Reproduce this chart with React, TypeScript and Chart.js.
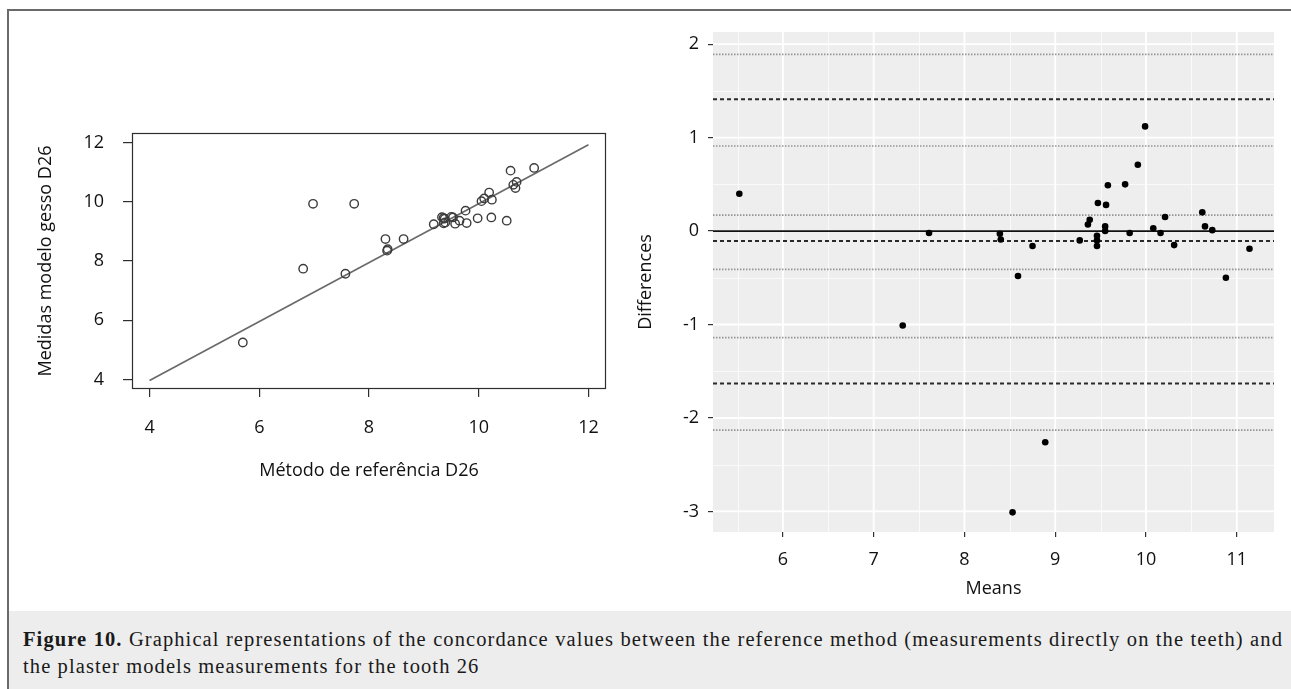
import React, { useEffect, useRef } from "react";
import { Chart, registerables } from "chart.js";

Chart.register(...registerables);

// ---------- Left panel: scatter (reference method vs plaster model) ----------
const refMethod = [
  5.70, 7.57, 8.33, 8.34, 8.30, 8.63, 9.18, 9.36, 9.39, 9.38, 9.36, 9.33, 9.57, 9.53, 9.50,
  9.65, 9.78, 9.98, 9.76, 10.23, 10.51, 10.05, 10.10, 10.24, 10.19, 10.67, 10.63, 10.69,
  10.58, 11.01, 6.80, 6.98, 7.73,
];
const plasterModel = [
  5.25, 7.57, 8.35, 8.40, 8.74, 8.74, 9.24, 9.27, 9.30, 9.43, 9.45, 9.48, 9.26, 9.47, 9.49,
  9.36, 9.28, 9.44, 9.70, 9.47, 9.36, 10.02, 10.11, 10.07, 10.31, 10.46, 10.57, 10.67,
  11.05, 11.14, 7.74, 9.93, 9.93,
];
const fitLineX = [4, 12];
const fitLineY = [3.97, 11.92];
const leftTicks = [4, 6, 8, 10, 12];
const leftRange = [3.68, 12.32];

// ---------- Right panel: Bland-Altman ----------
const means = [
  5.52, 7.61, 8.39, 8.40, 8.59, 8.75, 9.27, 9.36, 9.38, 9.46, 9.46, 9.46, 9.47, 9.55, 9.55,
  9.56, 9.58, 9.77, 9.82, 9.91, 9.99, 10.08, 10.16, 10.21, 10.31, 10.62, 10.65, 10.73,
  10.88, 11.14, 7.32, 8.53, 8.89,
];
const differences = [
  0.40, -0.02, -0.03, -0.09, -0.48, -0.16, -0.10, 0.07, 0.12, -0.05, -0.10, -0.16, 0.30,
  0.05, 0.00, 0.28, 0.49, 0.50, -0.02, 0.71, 1.12, 0.03, -0.02, 0.15, -0.15, 0.20, 0.05,
  0.01, -0.50, -0.19, -1.01, -3.01, -2.26,
];
const zeroLine = 0;
const meanBias = -0.107;
const limitsOfAgreement = [1.41, -1.63];
const confidenceBounds = [1.89, 0.91, 0.17, -0.41, -1.14, -2.13];
const meansTicks = [6, 7, 8, 9, 10, 11];
const diffTicks = [-3, -2, -1, 0, 1, 2];
const meansRange = [5.23, 11.41];
const diffRange = [-3.22, 2.13];

const SANS = "'Open Sans', 'Noto Sans', sans-serif";

const boxPlugin = {
  id: "rBox",
  afterDatasetsDraw(chart: any) {
    const { ctx, chartArea } = chart;
    const { left, top, right, bottom } = chartArea;
    ctx.save();
    ctx.strokeStyle = "#2e2e2e";
    ctx.lineWidth = 1.2;
    ctx.strokeRect(left + 0.5, top + 0.5, right - left - 1, bottom - top - 1);
    ctx.restore();
  },
};

const ggPanelPlugin = {
  id: "ggPanel",
  beforeDatasetsDraw(chart: any) {
    const { ctx, chartArea, scales } = chart;
    const { left, top, right, bottom } = chartArea;
    ctx.save();
    ctx.fillStyle = "#EEEEEE";
    ctx.fillRect(left, top, right - left, bottom - top);
    ctx.strokeStyle = "#FAFAFA";
    ctx.lineWidth = 0.9;
    const xs = scales.x;
    const ys = scales.y;
    for (let i = 0; i < meansTicks.length; i++) {
      const v = meansTicks[i] - 0.5;
      if (v > xs.min && v < xs.max) {
        const px = Math.round(xs.getPixelForValue(v)) + 0.5;
        ctx.beginPath();
        ctx.moveTo(px, top);
        ctx.lineTo(px, bottom);
        ctx.stroke();
      }
    }
    for (let i = 0; i < diffTicks.length; i++) {
      const v = diffTicks[i] + 0.5;
      if (v > ys.min && v < ys.max) {
        const py = Math.round(ys.getPixelForValue(v)) + 0.5;
        ctx.beginPath();
        ctx.moveTo(left, py);
        ctx.lineTo(right, py);
        ctx.stroke();
      }
    }
    ctx.strokeStyle = "#FFFFFF";
    ctx.lineWidth = 1.8;
    meansTicks.forEach((v) => {
      const px = xs.getPixelForValue(v);
      ctx.beginPath();
      ctx.moveTo(px, top);
      ctx.lineTo(px, bottom);
      ctx.stroke();
    });
    diffTicks.forEach((v) => {
      const py = ys.getPixelForValue(v);
      ctx.beginPath();
      ctx.moveTo(left, py);
      ctx.lineTo(right, py);
      ctx.stroke();
    });
    ctx.restore();
  },
};

function hLine(value: number, color: string, width: number, dash: number[]) {
  return {
    data: meansRange.map((x) => ({ x, y: value })),
    showLine: true,
    borderColor: color,
    borderWidth: width,
    borderDash: dash,
    pointRadius: 0,
    pointHoverRadius: 0,
    fill: false,
  };
}

function LeftChart() {
  const ref = useRef<HTMLCanvasElement | null>(null);
  useEffect(() => {
    if (!ref.current) return;
    const chart = new Chart(ref.current, {
      type: "scatter",
      data: {
        datasets: [
          {
            data: refMethod.map((x, i) => ({ x, y: plasterModel[i] })),
            pointStyle: "circle",
            pointRadius: 4.2,
            pointHoverRadius: 4.2,
            borderColor: "#3c3c3c",
            borderWidth: 1.4,
            backgroundColor: "rgba(0,0,0,0)",
          } as any,
          {
            data: fitLineX.map((x, i) => ({ x, y: fitLineY[i] })),
            showLine: true,
            borderColor: "#6a6a6a",
            borderWidth: 1.7,
            pointRadius: 0,
            pointHoverRadius: 0,
          } as any,
        ],
      },
      options: {
        responsive: false,
        animation: false,
        devicePixelRatio: 1,
        events: [],
        layout: { padding: { left: 0, top: 133, right: 34, bottom: 129 } },
        plugins: { legend: { display: false }, tooltip: { enabled: false } },
        scales: {
          x: {
            type: "linear",
            min: leftRange[0],
            max: leftRange[1],
            afterBuildTicks: (s: any) => {
              s.ticks = leftTicks.map((v) => ({ value: v }));
            },
            afterFit: (s: any) => {
              s.height = 93;
            },
            grid: { drawOnChartArea: false, drawTicks: true, tickLength: 8, color: "#2e2e2e", lineWidth: 1.2 },
            border: { display: false },
            ticks: {
              padding: 20,
              color: "#111",
              font: { family: SANS, size: 18 },
              maxRotation: 0,
              autoSkip: false,
              callback: (v: any) => String(v),
            },
            title: {
              display: true,
              text: "Método de referência D26",
              color: "#111",
              font: { family: SANS, size: 18 },
              padding: 0,
            },
          },
          y: {
            type: "linear",
            min: leftRange[0],
            max: leftRange[1],
            afterBuildTicks: (s: any) => {
              s.ticks = leftTicks.map((v) => ({ value: v }));
            },
            afterFit: (s: any) => {
              s.width = 132;
            },
            grid: { drawOnChartArea: false, drawTicks: true, tickLength: 9, color: "#2e2e2e", lineWidth: 1.2 },
            border: { display: false },
            ticks: {
              padding: 19,
              color: "#111",
              font: { family: SANS, size: 18 },
              autoSkip: false,
              callback: (v: any) => String(v),
            },
            title: {
              display: true,
              text: "Medidas modelo gesso D26",
              color: "#111",
              font: { family: SANS, size: 18 },
              padding: { top: 35, bottom: 0 },
            },
          },
        },
      },
      plugins: [boxPlugin],
    } as any);
    return () => chart.destroy();
  }, []);
  return (
    <canvas
      ref={ref}
      width={640}
      height={611}
      style={{ position: "absolute", left: 0, top: 0, width: 640, height: 611 }}
    />
  );
}

function RightChart() {
  const ref = useRef<HTMLCanvasElement | null>(null);
  useEffect(() => {
    if (!ref.current) return;
    const datasets: any[] = [
      {
        data: means.map((x, i) => ({ x, y: differences[i] })),
        pointStyle: "circle",
        pointRadius: 3.3,
        pointHoverRadius: 3.3,
        backgroundColor: "#000",
        borderColor: "#000",
        borderWidth: 0,
      },
      hLine(zeroLine, "#111", 1.8, []),
      hLine(meanBias, "#2a2a2a", 2, [4, 3]),
      ...limitsOfAgreement.map((v) => hLine(v, "#2a2a2a", 2, [4, 3])),
      ...confidenceBounds.map((v) => hLine(v, "#959595", 1.7, [1.5, 1.5])),
    ];
    const chart = new Chart(ref.current, {
      type: "scatter",
      data: { datasets },
      options: {
        responsive: false,
        animation: false,
        devicePixelRatio: 1,
        events: [],
        layout: { padding: { left: 0, top: 32, right: 17, bottom: 11 } },
        plugins: { legend: { display: false }, tooltip: { enabled: false } },
        scales: {
          x: {
            type: "linear",
            min: meansRange[0],
            max: meansRange[1],
            afterBuildTicks: (s: any) => {
              s.ticks = meansTicks.map((v) => ({ value: v }));
            },
            afterFit: (s: any) => {
              s.height = 68;
            },
            grid: { drawOnChartArea: false, drawTicks: true, tickLength: 5, color: "#333", lineWidth: 1.2 },
            border: { display: false },
            ticks: {
              padding: 12,
              color: "#111",
              font: { family: SANS, size: 18 },
              maxRotation: 0,
              autoSkip: false,
              callback: (v: any) => String(v),
            },
            title: {
              display: true,
              text: "Means",
              color: "#111",
              font: { family: SANS, size: 18 },
              padding: 0,
            },
          },
          y: {
            type: "linear",
            min: diffRange[0],
            max: diffRange[1],
            afterBuildTicks: (s: any) => {
              s.ticks = diffTicks.map((v) => ({ value: v }));
            },
            afterFit: (s: any) => {
              s.width = 83;
            },
            grid: { drawOnChartArea: false, drawTicks: true, tickLength: 5, color: "#333", lineWidth: 1.2 },
            border: { display: false },
            ticks: {
              padding: 9,
              color: "#111",
              font: { family: SANS, size: 18 },
              autoSkip: false,
              callback: (v: any) => String(v),
            },
            title: {
              display: true,
              text: "Differences",
              color: "#111",
              font: { family: SANS, size: 18 },
              padding: { top: 5, bottom: 0 },
            },
          },
        },
      },
      plugins: [ggPanelPlugin],
    } as any);
    return () => chart.destroy();
  }, []);
  return (
    <canvas
      ref={ref}
      width={661}
      height={611}
      style={{ position: "absolute", left: 630, top: 0, width: 661, height: 611 }}
    />
  );
}

export default function App() {
  const serif = "'Liberation Serif', 'DejaVu Serif', serif";
  return (
    <div
      style={{
        position: "fixed",
        left: 0,
        top: 0,
        width: 1291,
        height: 689,
        overflow: "hidden",
        background: "#fff",
      }}
    >
      <div
        style={{
          position: "absolute",
          left: 7,
          top: 9,
          width: 1290,
          height: 690,
          borderTop: "2px solid #6a6a6a",
          borderLeft: "2px solid #6a6a6a",
          boxSizing: "border-box",
        }}
      />
      <LeftChart />
      <RightChart />
      <div
        style={{
          position: "absolute",
          left: 9,
          top: 611,
          width: 1282,
          height: 78,
          background: "#EDEDED",
        }}
      >
        <div
          style={{
            position: "absolute",
            left: 14,
            top: 15,
            width: 1260,
            fontFamily: serif,
            fontSize: 20.5,
            letterSpacing: "1.1px",
            lineHeight: "27px",
            color: "#1a1a1a",
          }}
        >
          <div style={{ textAlign: "justify", textAlignLast: "justify" } as any}>
            <b>Figure 10.</b> Graphical representations of the concordance values between the
            reference method (measurements directly on the teeth) and
          </div>
          <div>the plaster models measurements for the tooth 26</div>
        </div>
      </div>
    </div>
  );
}
